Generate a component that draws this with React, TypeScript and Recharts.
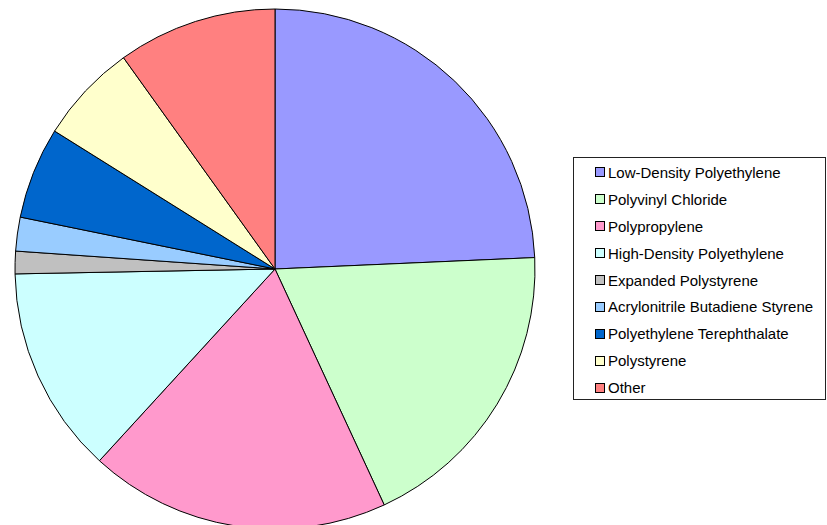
import React from 'react';
import { PieChart, Pie, Cell, Legend } from 'recharts';

const materials = [
  'Low-Density Polyethylene',
  'Polyvinyl Chloride',
  'Polypropylene',
  'High-Density Polyethylene',
  'Expanded Polystyrene',
  'Acrylonitrile Butadiene Styrene',
  'Polyethylene Terephthalate',
  'Polystyrene',
  'Other',
];
const shares = [24.3, 18.8, 18.7, 12.9, 1.4, 2.1, 5.7, 6.2, 9.9];
const colors = ['#9999FF', '#CCFFCC', '#FF99CC', '#CCFFFF', '#C0C0C0', '#99CCFF', '#0066CC', '#FFFFCC', '#FF8080'];

const data = materials.map((name, i) => ({ name, value: shares[i] }));

// boxed legend like the old Excel one
const LegendBox = () => (
  <div
    style={{
      boxSizing: 'border-box',
      width: 253,
      height: 243,
      border: '1px solid #222',
      background: '#fff',
      paddingTop: 1,
      fontFamily: 'Arial, "Liberation Sans", sans-serif',
      fontSize: 15,
      color: '#000',
    }}
  >
    {materials.map((m, i) => (
      <div key={m} style={{ display: 'flex', alignItems: 'center', height: 26.9, paddingLeft: 21, whiteSpace: 'nowrap' }}>
        <span
          style={{
            display: 'inline-block',
            boxSizing: 'border-box',
            flex: 'none',
            width: 10,
            height: 10,
            background: colors[i],
            border: '1px solid #000',
            marginRight: 3,
          }}
        />
        <span>{m}</span>
      </div>
    ))}
  </div>
);

export default function App() {
  return (
    <div style={{ position: 'absolute', left: 0, top: 0 }}>
      <PieChart width={827} height={525} margin={{ top: 0, right: 0, bottom: 0, left: 0 }}>
        <Pie
          data={data}
          dataKey="value"
          nameKey="name"
          cx={275}
          cy={269}
          outerRadius={260}
          startAngle={90}
          endAngle={-270}
          stroke="#000"
          strokeWidth={1}
          isAnimationActive={false}
        >
          {data.map((d, i) => (
            <Cell key={d.name} fill={colors[i]} />
          ))}
        </Pie>
        <Legend
          content={() => <LegendBox />}
          wrapperStyle={{ position: 'absolute', left: 573, top: 157, width: 253, height: 243 }}
        />
      </PieChart>
    </div>
  );
}
